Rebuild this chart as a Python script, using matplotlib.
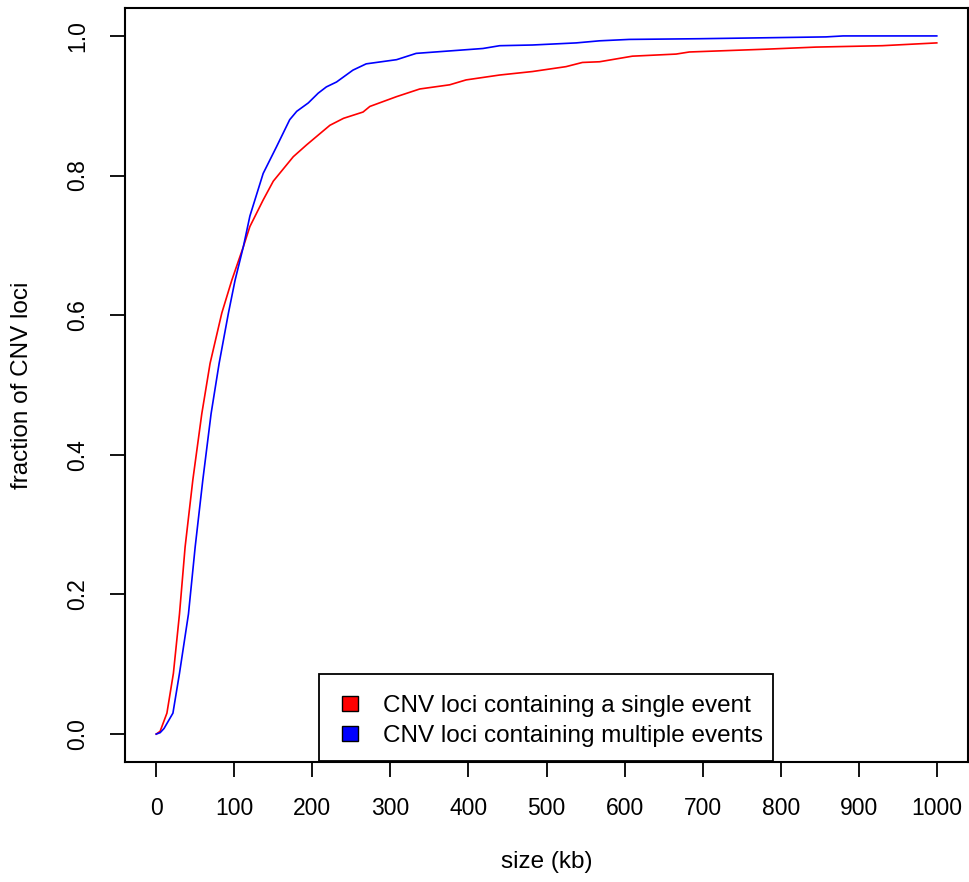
import matplotlib
matplotlib.use("Agg")
import matplotlib.pyplot as plt
from matplotlib.patches import Rectangle

plt.rcParams['font.family'] = ['Liberation Sans', 'DejaVu Sans']

# ---- data ----
single_kb = [0, 5, 13.7, 22, 29.8, 37, 46.9, 58.4, 69, 84, 96.8, 111.6, 120, 137,
             150, 175.6, 192.7, 209.7, 222.5, 240, 265, 273.7, 307.8, 337.6, 376,
             397, 440, 482, 525, 546, 568, 610, 666, 683, 781, 845, 930, 1000]
single_frac = [0, 0.004, 0.03, 0.087, 0.172, 0.268, 0.364, 0.459, 0.531, 0.603,
               0.650, 0.698, 0.727, 0.765, 0.792, 0.827, 0.844, 0.860, 0.872,
               0.882, 0.891, 0.899, 0.913, 0.924, 0.930, 0.937, 0.944, 0.949,
               0.956, 0.962, 0.963, 0.971, 0.974, 0.977, 0.981, 0.984, 0.986,
               0.990]

multi_kb = [0, 5, 10, 21.4, 29.8, 41.3, 49.9, 59.7, 70.3, 80.6, 92.5, 101, 111.6,
            120, 137, 154, 171, 180, 194.8, 207.5, 218, 231, 252, 269, 308, 333,
            418.5, 440, 482, 538, 568, 606, 696, 858, 880, 1000]
multi_frac = [0, 0.002, 0.008, 0.03, 0.087, 0.172, 0.268, 0.364, 0.459, 0.531,
              0.603, 0.650, 0.698, 0.742, 0.803, 0.841, 0.880, 0.892, 0.904,
              0.918, 0.927, 0.934, 0.951, 0.960, 0.966, 0.975, 0.982, 0.986,
              0.987, 0.990, 0.993, 0.995, 0.996, 0.9986, 1.0, 1.0]

series_labels = ["CNV loci containing a single event",
                 "CNV loci containing multiple events"]
series_colors = ["#FF0000", "#0000FF"]

x_ticks = list(range(0, 1001, 100))
y_ticks = [0.0, 0.2, 0.4, 0.6, 0.8, 1.0]
x_label = "size (kb)"
y_label = "fraction of CNV loci"

# ---- figure ----
W, H = 969, 882
fig = plt.figure(figsize=(W / 100, H / 100), dpi=100)
L, R, T, B = 125, 968, 8, 762
ax = fig.add_axes([L / W, 1 - B / H, (R - L) / W, (B - T) / H])

ax.plot(single_kb, single_frac, color=series_colors[0], lw=1.2)
ax.plot(multi_kb, multi_frac, color=series_colors[1], lw=1.2)

ax.set_xlim(-40, 1040)
ax.set_ylim(-0.04, 1.04)
ax.set_xticks(x_ticks)
ax.set_xticklabels([str(t) for t in x_ticks])
ax.set_yticks(y_ticks)
ax.set_yticklabels(["%.1f" % t for t in y_ticks], rotation=90, va='center')

for s in ax.spines.values():
    s.set_linewidth(1.5)
ax.tick_params(axis='both', direction='out', length=11, width=1.3,
               labelsize=16.5, pad=14.5, color='black')

fig.text((L + R) / 2 / W, 1 - 862 / H, x_label, ha='center', va='center',
         fontsize=17.5)
fig.text(22 / W, 1 - (T + B) / 2 / H, y_label, ha='center', va='center',
         rotation=90, fontsize=17.5)

# ---- legend (R style, drawn in axes coordinates) ----
aw, ah = R - L, B - T
def ax_x(px):
    return (px - L) / aw
def ax_y(py):
    return (B - py) / ah

ax.add_patch(Rectangle((ax_x(319.3), ax_y(760.5)), ax_x(773.3) - ax_x(319.3),
                       ax_y(674.3) - ax_y(760.5), transform=ax.transAxes,
                       facecolor='white', edgecolor='black', lw=1.3, zorder=5))
rows_top = [695.7, 725.7]
rows_base = [711.7, 741.7]
for i in range(2):
    ax.add_patch(Rectangle((ax_x(342), ax_y(rows_top[i] + 15)),
                           ax_x(358) - ax_x(342), 15 / ah,
                           transform=ax.transAxes, facecolor=series_colors[i],
                           edgecolor='black', lw=1.0, zorder=6))
    ax.text(ax_x(382.7), ax_y(rows_base[i]), series_labels[i],
            transform=ax.transAxes, ha='left', va='baseline', fontsize=17.5,
            zorder=7)

fig.savefig("out.png", dpi=100, facecolor='white')
